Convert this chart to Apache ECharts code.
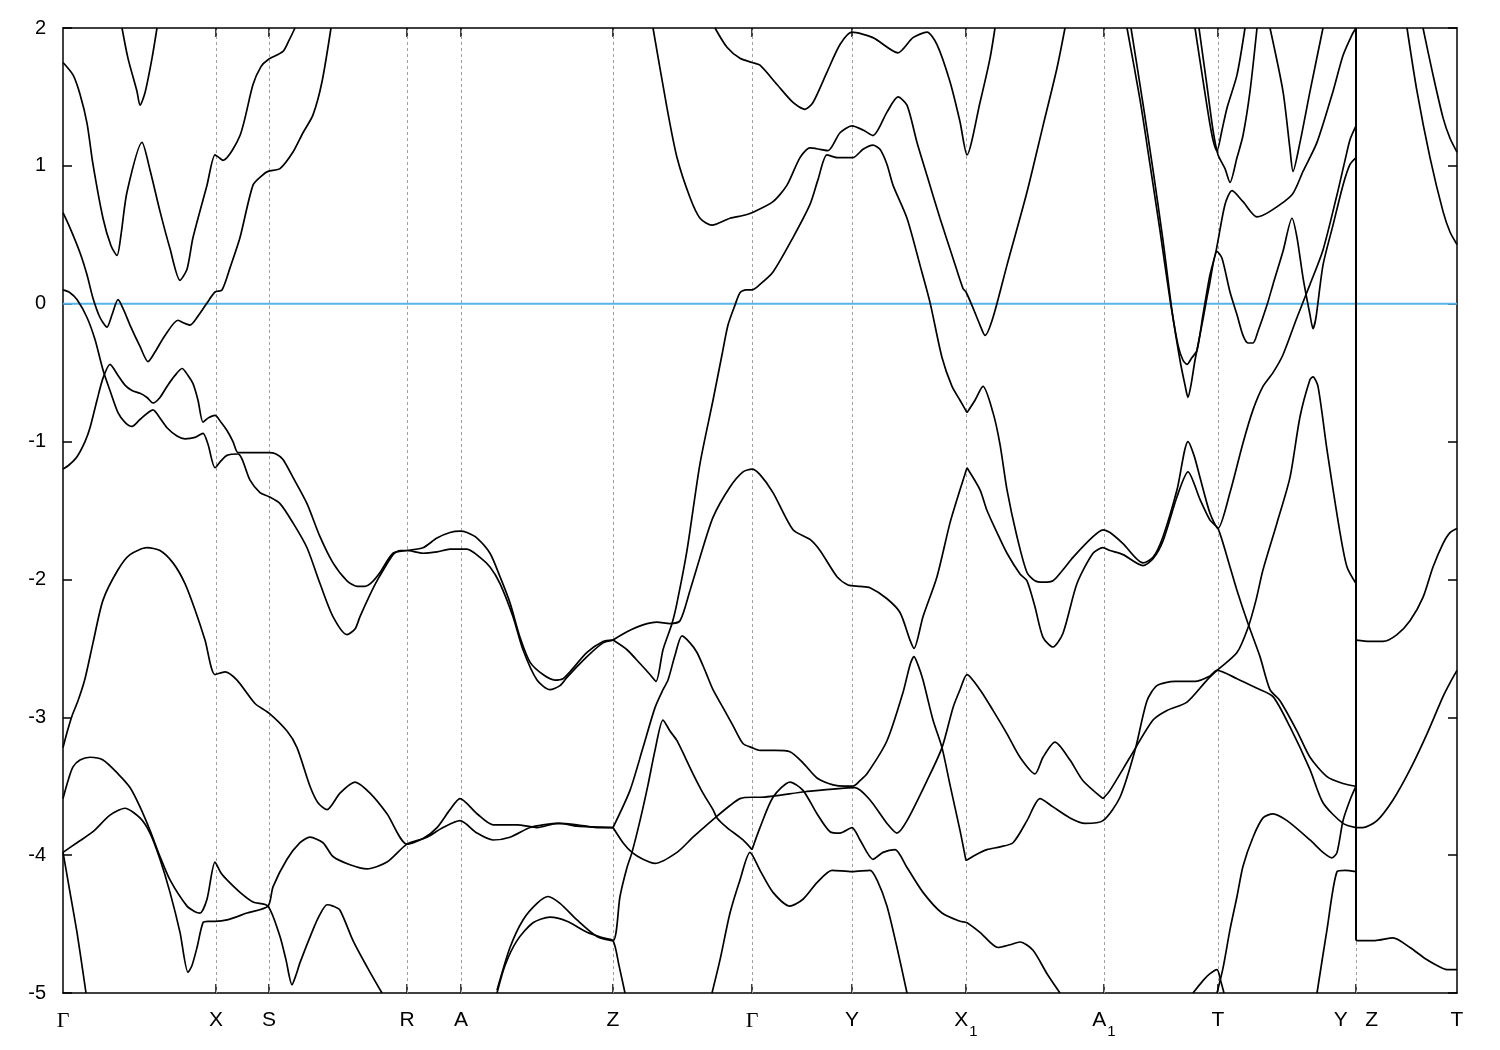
<!DOCTYPE html>
<html>
<head>
<meta charset="utf-8">
<script src="https://cdn.jsdelivr.net/npm/echarts@6/dist/echarts.min.js"></script>
<style>
html,body{margin:0;padding:0;background:#fff;}
#c{width:1500px;height:1050px;}
</style>
</head>
<body>
<div id="c"></div>
<script>
// high-symmetry k positions (path distance, arbitrary units) and labels
const kTicks = [0, 153, 206, 344, 398, 550, 689, 789, 903, 1041, 1155, 1293, 1394];
const kLabels = ['Γ','X','S','R','A','Z','Γ','Y','X1','A1','T','Y|Z','T'];
const eTicks = [-5,-4,-3,-2,-1,0,1,2];

// band segments: [k, E (eV)]
const bandTopV = [[59,2.0],[65,1.78],[74,1.54],[77,1.44],[82,1.53],[89,1.78],[94,2.0]];
const bandA = [[0,1.75],[10,1.66],[17,1.52],[24,1.31],[30,1.01],[40,0.62],[48,0.42],[54,0.35],[58,0.50],[64,0.81],[79,1.17],[87,0.97],[97,0.67],[107,0.40],[117,0.17],[124,0.25],[130,0.48],[144,0.86],[152,1.08],[156,1.06],[160,1.04],[177,1.22],[190,1.59],[198,1.72],[205,1.77],[220,1.83],[226,1.91],[232,2.0]];
const bandB = [[0,0.66],[7,0.55],[17,0.37],[24,0.21],[30,0.04],[37,-0.10],[44,-0.17],[49,-0.08],[55,0.03],[61,-0.05],[67,-0.155],[77,-0.31],[85,-0.42],[92,-0.35],[102,-0.23],[115,-0.12],[121,-0.14],[127,-0.155],[135,-0.09],[144,0.005],[152,0.085],[159,0.10],[167,0.26],[177,0.48],[190,0.86],[199,0.93],[205,0.96],[217,0.98],[230,1.10],[240,1.24],[250,1.37],[259,1.61],[268,2.0]];
const bandC1 = [[0,0.10],[7,0.08],[14,0.03],[24,-0.10],[32,-0.26],[40,-0.48],[47,-0.63],[55,-0.79],[62,-0.86],[69,-0.89],[77,-0.84],[90,-0.77],[97,-0.83],[104,-0.90],[114,-0.96],[122,-0.98],[132,-0.97],[140,-0.94],[145,-1.02],[152,-1.19],[158,-1.14],[164,-1.10],[175,-1.09],[187,-1.28],[197,-1.37],[206,-1.40],[217,-1.45],[230,-1.59],[244,-1.77],[257,-2.03],[270,-2.27],[284,-2.40],[292,-2.36],[297,-2.27],[307,-2.11],[314,-2.01],[330,-1.82],[337,-1.79],[344,-1.79],[360,-1.81],[374,-1.80],[387,-1.78],[404,-1.78],[417,-1.84],[427,-1.91],[437,-2.03],[450,-2.27],[460,-2.51],[474,-2.73],[487,-2.80],[497,-2.77],[504,-2.71],[524,-2.56],[540,-2.46],[550,-2.44]];
const bandC2 = [[550,-2.44],[564,-2.51],[577,-2.61],[587,-2.69],[593,-2.74],[600,-2.51],[609,-2.32],[614,-2.17],[624,-1.79],[637,-1.16],[650,-0.70],[659,-0.37],[665,-0.155],[672,-0.01],[677,0.08],[683,0.10],[689,0.10],[697,0.14],[710,0.23],[730,0.48],[747,0.72],[755,0.90],[764,1.08],[774,1.06],[790,1.06],[800,1.12],[810,1.15],[817,1.12],[824,1.01],[830,0.86],[844,0.62],[857,0.28],[867,0.01],[879,-0.39],[889,-0.60],[897,-0.70],[904,-0.79]];
const bandC3 = [[904,-0.79],[912,-0.70],[920,-0.60],[930,-0.79],[937,-1.02],[944,-1.35],[954,-1.69],[964,-1.95],[972,-2.01],[980,-2.02],[990,-2.01],[1000,-1.93],[1010,-1.84],[1030,-1.69],[1040,-1.64],[1047,-1.66],[1060,-1.74],[1080,-1.88],[1090,-1.84],[1100,-1.69],[1114,-1.35],[1125,-1.00],[1131,-1.10],[1137,-1.26],[1147,-1.52],[1155,-1.63],[1167,-1.37],[1180,-1.01],[1190,-0.77],[1200,-0.60],[1210,-0.50],[1220,-0.37],[1234,-0.10],[1247,0.14],[1260,0.39],[1274,0.79],[1282,1.04],[1287,1.19],[1293,1.29]];
const bandD1 = [[0,-1.20],[6,-1.17],[14,-1.11],[22,-1.00],[27,-0.90],[34,-0.70],[40,-0.54],[47,-0.44],[55,-0.52],[62,-0.59],[69,-0.63],[77,-0.65],[84,-0.68],[90,-0.72],[97,-0.68],[104,-0.60],[112,-0.52],[119,-0.47],[125,-0.52],[130,-0.58],[135,-0.70],[140,-0.86],[145,-0.83],[152,-0.81],[158,-0.86],[164,-0.92],[170,-1.00],[175,-1.08],[187,-1.08],[199,-1.08],[206,-1.08],[213,-1.09],[220,-1.13],[230,-1.26],[244,-1.45],[257,-1.69],[270,-1.88],[284,-2.01],[294,-2.05],[302,-2.05],[309,-2.02],[317,-1.95],[330,-1.81],[344,-1.79],[360,-1.77],[374,-1.70],[387,-1.66],[397,-1.65],[404,-1.66],[414,-1.70],[427,-1.81],[437,-1.98],[447,-2.17],[457,-2.42],[467,-2.60],[480,-2.69],[492,-2.73],[500,-2.72],[507,-2.67],[524,-2.53],[540,-2.45],[550,-2.44]];
const bandD2 = [[550,-2.44],[564,-2.38],[580,-2.33],[594,-2.31],[607,-2.32],[617,-2.30],[627,-2.08],[637,-1.84],[650,-1.55],[667,-1.33],[680,-1.22],[689,-1.20],[697,-1.24],[710,-1.37],[730,-1.64],[747,-1.71],[757,-1.79],[774,-1.98],[785,-2.04],[797,-2.05],[807,-2.06],[824,-2.14],[837,-2.24],[847,-2.44],[851,-2.50],[860,-2.27],[874,-1.98],[887,-1.59],[897,-1.35],[904,-1.19]];
const bandD3 = [[904,-1.19],[917,-1.35],[924,-1.50],[934,-1.66],[944,-1.81],[957,-1.96],[964,-2.01],[972,-2.20],[980,-2.42],[990,-2.49],[1000,-2.39],[1014,-2.03],[1030,-1.81],[1040,-1.77],[1047,-1.79],[1060,-1.82],[1080,-1.90],[1090,-1.85],[1100,-1.72],[1114,-1.40],[1125,-1.22],[1137,-1.42],[1147,-1.57],[1155,-1.63],[1167,-1.91],[1174,-2.08],[1185,-2.32],[1197,-2.56],[1207,-2.80],[1217,-2.88],[1234,-3.10],[1247,-3.29],[1264,-3.43],[1280,-3.48],[1293,-3.50]];
const bandE1 = [[0,-3.22],[4,-3.11],[9,-2.99],[15,-2.88],[22,-2.72],[30,-2.46],[40,-2.15],[55,-1.93],[67,-1.82],[84,-1.77],[97,-1.79],[110,-1.88],[122,-2.03],[132,-2.22],[142,-2.44],[152,-2.69],[162,-2.67],[174,-2.73],[192,-2.90],[206,-2.97],[224,-3.10],[234,-3.22],[247,-3.50],[255,-3.62],[264,-3.67],[277,-3.55],[292,-3.47],[307,-3.55],[324,-3.70],[344,-3.92],[360,-3.88],[374,-3.80],[387,-3.67],[397,-3.59],[414,-3.70],[430,-3.78],[454,-3.78],[474,-3.80],[494,-3.77],[514,-3.78],[534,-3.80],[550,-3.80]];
const bandE2 = [[550,-3.80],[560,-3.91],[569,-3.98],[580,-4.03],[592,-4.06],[614,-3.98],[630,-3.87],[652,-3.73],[667,-3.64],[677,-3.59],[689,-3.58],[697,-3.58],[742,-3.54],[792,-3.51],[807,-3.60],[824,-3.77],[834,-3.84],[844,-3.75],[864,-3.46],[879,-3.22],[890,-2.93],[897,-2.80],[904,-2.69],[917,-2.80],[930,-2.95],[944,-3.12],[957,-3.29],[972,-3.41],[980,-3.29],[992,-3.18],[1007,-3.31],[1020,-3.46],[1040,-3.59]];
const bandE3 = [[1040,-3.59],[1047,-3.53],[1067,-3.29],[1090,-3.02],[1104,-2.95],[1124,-2.89],[1144,-2.73],[1154,-2.66],[1174,-2.53],[1185,-2.35],[1193,-2.15],[1200,-1.93],[1214,-1.59],[1227,-1.26],[1237,-0.82],[1247,-0.55],[1250,-0.53],[1255,-0.60],[1264,-1.06],[1277,-1.66],[1284,-1.91],[1293,-2.03]];
const bandE4 = [[1293,-2.44],[1307,-2.45],[1320,-2.45],[1334,-2.40],[1347,-2.30],[1360,-2.13],[1370,-1.91],[1380,-1.74],[1387,-1.66],[1394,-1.63]];
const bandF = [[0,-3.59],[5,-3.46],[10,-3.36],[17,-3.31],[27,-3.29],[40,-3.31],[55,-3.41],[67,-3.51],[77,-3.65],[87,-3.82],[97,-4.01],[107,-4.18],[124,-4.37],[132,-4.41],[137,-4.42],[144,-4.32],[152,-4.05],[158,-4.13],[164,-4.18],[177,-4.27],[190,-4.34],[205,-4.37],[217,-4.59],[223,-4.76],[229,-4.94],[233,-4.87],[237,-4.78],[250,-4.54],[257,-4.43],[264,-4.36],[270,-4.37],[277,-4.40],[290,-4.62],[304,-4.81],[319,-5.0]];
const bandG1 = [[0,-3.98],[14,-3.91],[30,-3.83],[47,-3.71],[62,-3.66],[77,-3.73],[87,-3.84],[97,-4.03],[107,-4.27],[117,-4.56],[125,-4.85],[129,-4.80],[134,-4.67],[140,-4.49],[145,-4.48],[152,-4.48],[164,-4.47],[184,-4.42],[205,-4.37],[210,-4.23],[224,-4.03],[237,-3.91],[247,-3.87],[260,-3.91],[270,-4.01],[287,-4.07],[304,-4.10],[324,-4.05],[344,-3.92],[364,-3.87],[380,-3.80],[397,-3.75],[414,-3.84],[430,-3.89],[447,-3.87],[467,-3.80],[480,-3.78],[497,-3.77],[514,-3.79],[550,-3.80]];
const bandG2 = [[550,-3.80],[567,-3.53],[580,-3.22],[592,-2.93],[600,-2.80],[605,-2.73],[612,-2.55],[619,-2.41],[627,-2.46],[634,-2.53],[642,-2.66],[650,-2.80],[660,-2.93],[670,-3.06],[680,-3.19],[689,-3.22],[697,-3.24],[712,-3.24],[727,-3.25],[740,-3.33],[754,-3.44],[770,-3.49],[782,-3.50],[790,-3.50],[797,-3.46],[804,-3.41],[824,-3.17],[840,-2.82],[847,-2.62],[851,-2.56],[855,-2.62],[860,-2.73],[870,-3.02],[879,-3.22],[887,-3.49],[897,-3.82],[903,-4.04]];
const bandG3 = [[903,-4.04],[912,-4.00],[924,-3.96],[937,-3.94],[950,-3.91],[964,-3.75],[977,-3.59],[990,-3.65],[1007,-3.73],[1022,-3.77],[1040,-3.75],[1057,-3.58],[1072,-3.24],[1084,-2.88],[1094,-2.77],[1112,-2.74],[1132,-2.74],[1147,-2.70],[1154,-2.66],[1174,-2.72],[1194,-2.79],[1210,-2.85],[1227,-3.07],[1247,-3.38],[1260,-3.62],[1280,-3.77],[1293,-3.80]];
const bandG4 = [[1293,-3.80],[1300,-3.80],[1314,-3.75],[1330,-3.60],[1347,-3.38],[1364,-3.12],[1380,-2.85],[1387,-2.75],[1394,-2.66]];
const bandH = [[0,-3.98],[7,-4.27],[14,-4.56],[20,-4.85],[23,-5.0]];
const bandI1 = [[434,-4.98],[447,-4.67],[460,-4.47],[474,-4.35],[485,-4.30],[497,-4.35],[514,-4.47],[534,-4.59],[550,-4.62],[557,-4.30],[564,-4.09],[569,-3.98],[577,-3.75],[585,-3.49],[592,-3.24],[600,-3.02],[607,-3.10],[614,-3.17],[630,-3.41],[640,-3.55],[650,-3.67],[654,-3.73],[664,-3.80],[680,-3.89],[689,-3.96]];
const bandI2 = [[689,-3.96],[697,-3.80],[710,-3.58],[727,-3.47],[740,-3.53],[754,-3.70],[767,-3.83],[777,-3.84],[789,-3.80],[797,-3.89],[810,-4.03],[820,-3.98],[832,-3.96],[844,-4.09],[860,-4.27],[879,-4.42],[897,-4.48],[904,-4.49],[917,-4.56],[935,-4.67],[947,-4.65],[957,-4.63],[970,-4.69],[984,-4.86],[997,-5.0]];
const bandJ = [[434,-5.0],[442,-4.80],[454,-4.62],[470,-4.49],[487,-4.45],[504,-4.48],[524,-4.56],[540,-4.60],[550,-4.62],[556,-4.80],[562,-5.0]];
const bandK = [[649,-5.0],[657,-4.76],[667,-4.42],[677,-4.18],[687,-3.98],[697,-4.11],[710,-4.27],[727,-4.37],[740,-4.32],[754,-4.20],[769,-4.11],[789,-4.12],[807,-4.11],[814,-4.18],[824,-4.37],[834,-4.67],[844,-5.0]];
const bandL = [[652,2.0],[664,1.86],[677,1.78],[689,1.75],[697,1.73],[714,1.59],[730,1.46],[742,1.41],[750,1.46],[764,1.68],[777,1.88],[789,1.97],[810,1.93],[835,1.82],[850,1.93],[864,1.97],[874,1.88],[887,1.61],[897,1.32],[904,1.08],[917,1.46],[927,1.78],[932,2.0]];
const bandM = [[590,2.0],[604,1.42],[614,1.06],[627,0.77],[637,0.62],[649,0.57],[667,0.62],[680,0.64],[689,0.66],[710,0.74],[724,0.86],[737,1.06],[747,1.13],[757,1.12],[765,1.11],[777,1.24],[789,1.29],[800,1.26],[810,1.22],[824,1.39],[835,1.50],[844,1.44],[854,1.17],[864,0.93],[877,0.62],[890,0.33],[900,0.11],[903,0.085],[910,-0.03],[917,-0.155],[922,-0.23],[930,-0.10],[944,0.28],[964,0.81],[980,1.29],[994,1.71],[1002,2.0]];
const bandNa = [[1064,2.0],[1077,1.48],[1087,1.01],[1097,0.53],[1107,0.03],[1115,-0.30],[1120,-0.41],[1124,-0.44],[1129,-0.39],[1134,-0.34],[1140,-0.08],[1147,0.21],[1153,0.38],[1162,0.72],[1169,0.82],[1180,0.74],[1194,0.63],[1207,0.67],[1229,0.79],[1240,0.96],[1254,1.17],[1270,1.54],[1280,1.80],[1289,1.95],[1293,2.0]];
const bandNb = [[1068,2.0],[1080,1.45],[1090,0.97],[1100,0.46],[1109,-0.05],[1117,-0.41],[1122,-0.59],[1125,-0.68],[1128,-0.59],[1132,-0.41],[1139,-0.15],[1146,0.12],[1154,0.38],[1159,0.33],[1167,0.085],[1174,-0.08],[1180,-0.23],[1185,-0.285],[1190,-0.285],[1195,-0.20],[1204,-0.01],[1210,0.14],[1220,0.38],[1229,0.62],[1234,0.48],[1240,0.19],[1247,-0.08],[1250,-0.18],[1253,-0.10],[1260,0.28],[1270,0.57],[1280,0.86],[1287,1.01],[1293,1.06]];
const bandNc = [[1132,2.0],[1140,1.62],[1147,1.30],[1151,1.16],[1154,1.11],[1159,1.26],[1164,1.42],[1174,1.66],[1182,2.0]];
const bandNd = [[1136,2.0],[1144,1.58],[1150,1.26],[1155,1.08],[1162,0.98],[1167,0.88],[1174,1.06],[1180,1.22],[1187,1.54],[1194,2.0]];
const bandNe = [[1207,2.0],[1220,1.54],[1227,1.12],[1230,0.96],[1237,1.17],[1247,1.54],[1260,2.0]];
const bandNf = [[1344,2.0],[1354,1.54],[1367,1.06],[1380,0.67],[1387,0.52],[1394,0.43]];
const bandNg = [[1360,2.0],[1370,1.66],[1380,1.35],[1387,1.20],[1394,1.10]];
const bandO = [[1254,-5.0],[1264,-4.54],[1274,-4.12],[1282,-4.11],[1293,-4.12]];
const bandP1 = [[1130,-5.0],[1140,-4.91],[1147,-4.86],[1154,-4.83],[1158,-4.92],[1161,-5.0]];
const bandP2 = [[1154,-5.0],[1160,-4.82],[1167,-4.54],[1174,-4.30],[1180,-4.08],[1190,-3.87],[1200,-3.73],[1210,-3.70],[1224,-3.75],[1247,-3.89],[1260,-3.98],[1269,-4.02],[1274,-3.98],[1280,-3.75],[1287,-3.60],[1293,-3.50]];
const bandQ = [[1293,-4.62],[1312,-4.62],[1330,-4.60],[1347,-4.67],[1362,-4.75],[1374,-4.80],[1384,-4.83],[1394,-4.83]];
const jumpYZ = [[1293,2.0],[1293,-4.62]];
const fermi = [[0,0],[1394,0]];

const bands = [bandTopV,bandA,bandB,bandC1,bandC2,bandC3,bandD1,bandD2,bandD3,
  bandE1,bandE2,bandE3,bandE4,bandF,bandG1,bandG2,bandG3,bandG4,bandH,bandI1,bandI2,
  bandJ,bandK,bandL,bandM,bandNa,bandNb,bandNc,bandNd,bandNe,bandNf,bandNg,bandO,
  bandP1,bandP2,bandQ];

const chart = echarts.init(document.getElementById('c'), null, {renderer:'canvas'});

const series = [];
// dashed vertical guides at high-symmetry points (drawn underneath)
series.push({
  type:'line', data:[], silent:true, z:1, zlevel:0,
  markLine:{
    silent:true, symbol:['none','none'], label:{show:false}, z:1,
    lineStyle:{color:'#a0a0a0', type:[3,3], width:1},
    data: kTicks.slice(1, -1).map(v => ({xAxis:v}))
  }
});
series.push({
  type:'line', data:fermi, showSymbol:false, silent:true,
  lineStyle:{color:'#56b4e9', width:2}, z:2
});
bands.forEach(d => series.push({
  type:'line', data:d, showSymbol:false, smooth:0.25, silent:true,
  lineStyle:{color:'#000', width:1.7}, z:4
}));
series.push({
  type:'line', data:jumpYZ, showSymbol:false, smooth:false, silent:true,
  lineStyle:{color:'#000', width:2}, z:5
});

const labelText = v => {
  const i = kTicks.indexOf(v);
  if (i < 0) return '';
  const s = kLabels[i];
  if (s === 'Γ') return '{g|Γ}';
  if (s === 'X1') return '{n|X}{s|1}';
  if (s === 'A1') return '{n|A}{s|1}';
  if (s === 'Y|Z') return '{n|Y   Z}';
  return '{n|' + s + '}';
};

const frame = {show:true, onZero:false, lineStyle:{color:'#000', width:1.5}};
const font = 'Liberation Sans, Arial, sans-serif';

chart.setOption({
  animation:false,
  backgroundColor:'#fff',
  grid:{left:63, right:43, top:28, bottom:57, containLabel:false},
  xAxis:[{
    type:'value', min:0, max:1394, position:'bottom',
    axisLine:frame, splitLine:{show:false},
    axisTick:{show:true, inside:true, length:9, lineStyle:{color:'#000', width:1.5}, customValues:kTicks.slice(1,-1)},
    axisLabel:{show:true, customValues:kTicks, margin:17, formatter:labelText,
      rich:{
        n:{fontSize:21, fontFamily:font, color:'#000', lineHeight:22, verticalAlign:'top'},
        g:{fontSize:22, fontFamily:'Liberation Serif, serif', color:'#000', lineHeight:22, verticalAlign:'top'},
        s:{fontSize:15, fontFamily:font, color:'#000', lineHeight:15, verticalAlign:'top', padding:[14,0,0,1]}
      }}
  },{
    type:'value', min:0, max:1394, position:'top',
    axisLine:frame, splitLine:{show:false},
    axisTick:{show:true, inside:true, length:9, lineStyle:{color:'#000', width:1.5}, customValues:kTicks.slice(1,-1)},
    axisLabel:{show:false}
  }],
  yAxis:[{
    type:'value', min:-5, max:2, interval:1, position:'left',
    axisLine:frame, splitLine:{show:false},
    axisTick:{show:true, inside:true, length:9, lineStyle:{color:'#000', width:1.5}},
    axisLabel:{show:true, fontSize:20, fontFamily:font, color:'#000', margin:17}
  },{
    type:'value', min:-5, max:2, interval:1, position:'right',
    axisLine:frame, splitLine:{show:false},
    axisTick:{show:true, inside:true, length:9, lineStyle:{color:'#000', width:1.5}},
    axisLabel:{show:false}
  }],
  series: series
});
</script>
</body>
</html>
